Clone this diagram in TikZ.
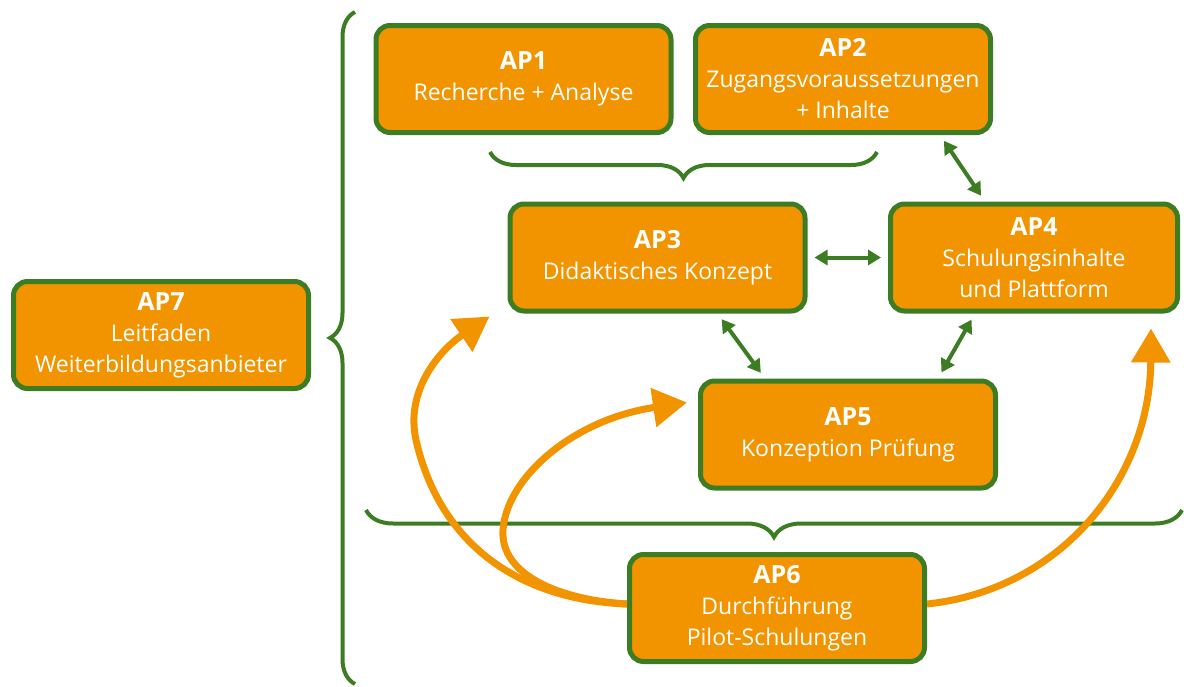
\documentclass[tikz,border=0pt]{standalone}
\usepackage{fontspec}
\setmainfont{Open Sans}
\usetikzlibrary{arrows.meta,decorations.pathreplacing}
\definecolor{apOrange}{HTML}{F29400}
\definecolor{apGreen}{HTML}{3C7D23}
\newcommand{\aphead}[1]{{\fontsize{25}{31}\selectfont\bfseries #1}}

\begin{document}
\begin{tikzpicture}[x=1pt, y=-1pt,
    ap/.style={draw=apGreen, line width=5pt, fill=apOrange, rounded corners=14pt,
      minimum width=295pt, minimum height=107pt, text=white, align=center,
      font=\fontsize{23}{31}\selectfont},
    link/.style={apGreen, line width=4pt, shorten <=7pt, shorten >=7pt,
      {Triangle[length=13pt,width=15pt]}-{Triangle[length=13pt,width=15pt]}},
    flow/.style={apOrange, line width=7pt, -{Triangle[length=34pt,width=38pt]}},
    bracket/.style={apGreen, line width=4pt, decorate, decoration={brace, amplitude=#1}}]
        \useasboundingbox (0,0) rectangle (1184,686);

        \node[ap] (ap1) at (523.5, 79) {\aphead{AP1}\\Recherche + Analyse};
        \node[ap] (ap2) at (843, 79) {\aphead{AP2}\\Zugangsvoraussetzungen\\+ Inhalte};
        \node[ap] (ap3) at (657.5, 257.5) {\aphead{AP3}\\Didaktisches Konzept};
        \node[ap, minimum width=287pt] (ap4) at (1034, 257.5) {\aphead{AP4}\\Schulungsinhalte\\und Plattform};
        \node[ap] (ap5) at (848, 434.5) {\aphead{AP5}\\Konzeption Prüfung};
        \node[ap] (ap6) at (777, 608) {\aphead{AP6}\\Durchführung\\Pilot-Schulungen};
        \node[ap] (ap7) at (161, 335) {\aphead{AP7}\\Leitfaden\\Weiterbildungsanbieter};

        % braces
        \draw[bracket=26pt] (877, 152) -- (490, 152);
        \draw[bracket=27pt] (1182, 510) -- (366, 510);
        \draw[bracket=25pt, decoration={aspect=0.515}] (355, 684) -- (355, 12);

        % links between work packages
        \draw[link] (ap3) -- (ap4);
        \draw[link] ([xshift=97]ap2.south) -- ([xshift=-49]ap4.north);
        \draw[link] ([xshift=60]ap3.south) -- ([xshift=-83]ap5.north);
        \draw[link] ([xshift=-59]ap4.south) -- ([xshift=90]ap5.north);

        % feedback from the pilot
        \draw[flow] ([yshift=4]ap6.west) .. controls (520, 600) and (440, 545) .. (416, 440)
            .. controls (405, 390) and (440, 350) .. ([shift={(-18,3)}]ap3.south west);
        \draw[flow] ([yshift=4]ap6.west) .. controls (560, 600) and (500, 575) .. (503, 530)
            .. controls (506, 480) and (570, 420) .. ([shift={(-11,-32)}]ap5.west);
        \draw[flow] ([yshift=4]ap6.east) .. controls (1060, 590) and (1150, 480) .. ([shift={(-29,15)}]ap4.south east);
\end{tikzpicture}
\end{document}
